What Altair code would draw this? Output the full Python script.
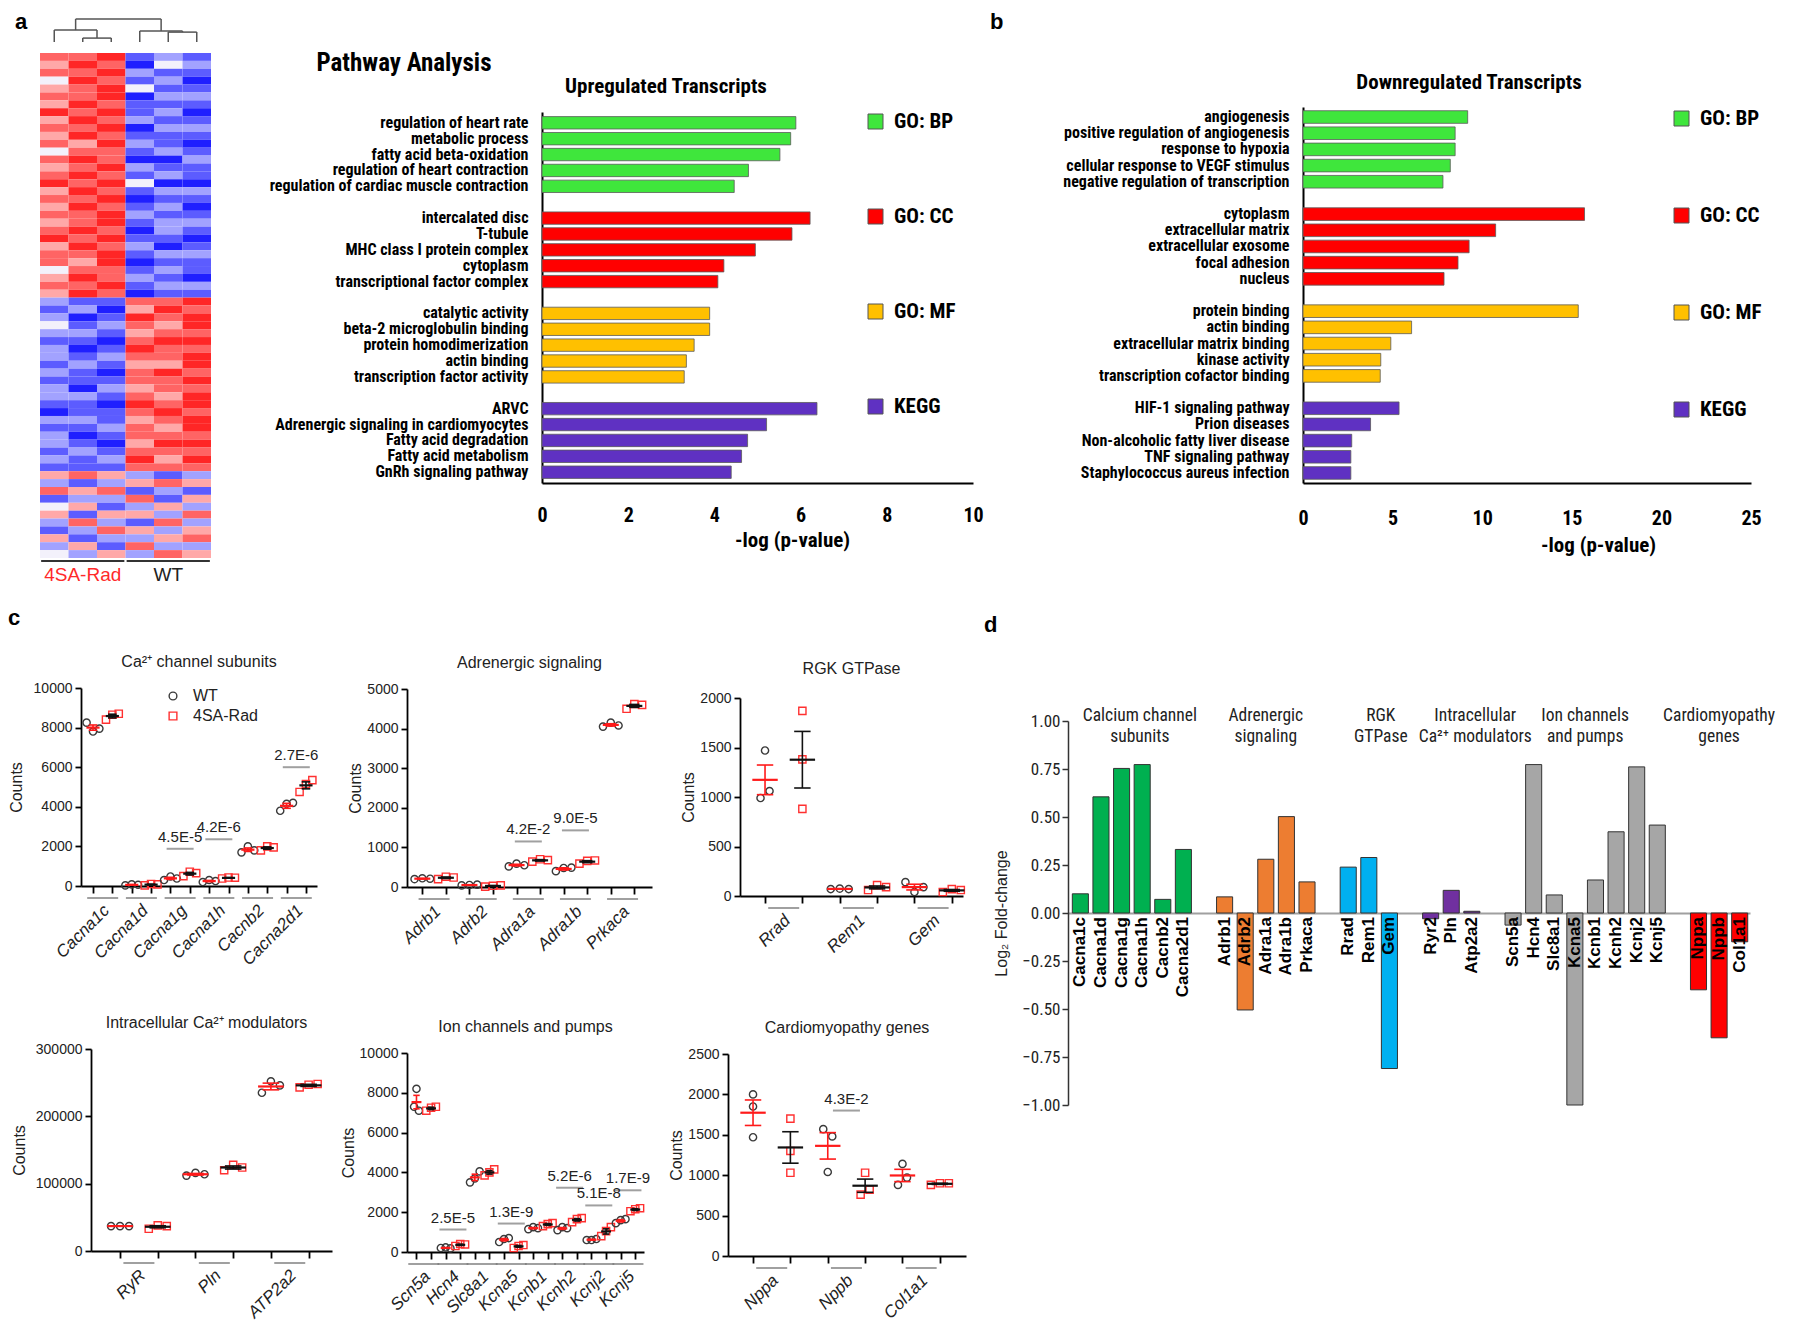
import altair as alt
import pandas as pd

NARROW = "Liberation Sans Narrow, Arial Narrow, Roboto Condensed, DejaVu Sans Condensed, sans-serif"
ARIAL = "Liberation Sans, Arial, Helvetica, sans-serif"

# ====================== DATA ======================
# ---- panel a: heatmap, z-score levels (-3 blue .. +3 red), 64 transcripts x 6 samples
hm_samples = ["4SA-Rad 1", "4SA-Rad 2", "4SA-Rad 3", "WT 1", "WT 2", "WT 3"]
hm_groups = ["4SA-Rad", "4SA-Rad", "4SA-Rad", "WT", "WT", "WT"]
hm_4sa_1 = [2,1,2,0,1,2,1,3,1,2,1,2,0,2,1,2,3,1,2,1,2,1,2,3,1,2,2,0,1,2,1,
            -1,-2,-1,0,-1,-2,-1,-1,-2,-1,-2,-1,-1,-2,-3,-1,-2,-1,-1,-2,-1,-2,
            1,-1,2,-2,0,1,-1,-2,1,-1,0]
hm_4sa_2 = [2,3,2,3,2,2,3,2,3,2,3,1,2,3,2,3,2,3,2,3,2,2,3,2,3,2,1,2,3,2,3,
            -2,-1,-3,-2,-1,-2,-3,-2,-1,-2,-2,-3,-1,-2,-2,-1,-2,-3,-2,-1,-2,-2,
            2,-2,1,-1,1,-2,2,-1,-2,1,-1]
hm_4sa_3 = [3,2,3,2,3,3,2,3,2,3,2,3,2,2,3,2,3,2,3,2,3,3,2,3,2,3,3,2,2,3,2,
            -2,-3,-2,-1,-2,-3,-2,-1,-2,-3,-2,-1,-2,-3,-2,-2,-1,-2,-3,-2,-1,-2,
            1,-1,2,-1,-2,1,-1,2,-1,-2,1]
hm_wt_1 = [-2,-3,-1,-2,0,-3,-2,-2,-1,-3,-2,-1,-2,-3,-1,-2,0,-2,-3,-2,-1,-2,-3,-2,-1,-2,-3,-2,-1,-2,-3,
           2,1,3,2,1,2,3,2,1,2,2,1,2,3,2,1,2,2,1,2,3,2,
           -1,1,-2,2,-1,1,-2,1,-1,2,-1]
hm_wt_2 = [-1,0,-2,-1,-2,-1,-2,-1,-2,-1,-2,-2,-1,-3,-2,-1,-3,-1,-2,-1,-2,-1,-1,-2,-3,-1,-2,-1,-2,-1,-2,
           2,3,2,1,2,3,2,2,1,3,2,2,1,2,3,2,1,2,3,2,1,2,
           -2,2,-1,-2,1,-1,2,-1,1,-1,2]
hm_wt_3 = [-2,-1,-2,-3,-2,-1,-2,-3,-2,-1,-2,-3,-2,-1,-2,-2,-3,-1,-2,-3,-2,-1,-2,-3,-2,-1,-2,-2,-3,-1,-2,
           3,2,3,3,2,3,2,3,3,2,3,2,3,3,2,3,3,2,3,2,3,2,
           -1,1,-2,1,-1,2,-1,1,2,-1,1]
hm_columns = [hm_4sa_1, hm_4sa_2, hm_4sa_3, hm_wt_1, hm_wt_2, hm_wt_3]
# hierarchical clustering of samples: (child, child, merge height)
dendro_merges = [("s2", "s3", 0.17), ("s1", "m1", 0.52), ("s5", "s6", 0.43),
                 ("s4", "m3", 0.48), ("m2", "m4", 1.0)]

# ---- panels a/b: pathway analysis
CAT_ORDER = ["GO: BP", "GO: CC", "GO: MF", "KEGG"]
CAT_COLORS = ["#3fe63c", "#ff0000", "#ffc000", "#5f31c2"]
up_terms = ["regulation of heart rate", "metabolic process", "fatty acid beta-oxidation",
            "regulation of heart contraction", "regulation of cardiac muscle contraction",
            "intercalated disc", "T-tubule", "MHC class I protein complex", "cytoplasm",
            "transcriptional factor complex",
            "catalytic activity", "beta-2 microglobulin binding", "protein homodimerization",
            "actin binding", "transcription factor activity",
            "ARVC", "Adrenergic signaling in cardiomyocytes", "Fatty acid degradation",
            "Fatty acid metabolism", "GnRh signaling pathway"]
up_values = [5.89, 5.77, 5.52, 4.79, 4.46,
             6.22, 5.80, 4.95, 4.22, 4.08,
             3.89, 3.89, 3.53, 3.35, 3.30,
             6.38, 5.21, 4.77, 4.63, 4.39]
up_cats = ["GO: BP"] * 5 + ["GO: CC"] * 5 + ["GO: MF"] * 5 + ["KEGG"] * 5
down_terms = ["angiogenesis", "positive regulation of angiogenesis", "response to hypoxia",
              "cellular response to VEGF stimulus", "negative regulation of transcription",
              "cytoplasm", "extracellular matrix", "extracellular exosome", "focal adhesion", "nucleus",
              "protein binding", "actin binding", "extracellular matrix binding", "kinase activity",
              "transcription cofactor binding",
              "HIF-1 signaling pathway", "Prion diseases", "Non-alcoholic fatty liver disease",
              "TNF signaling pathway", "Staphylococcus aureus infection"]
down_values = [9.19, 8.49, 8.49, 8.22, 7.81,
               15.71, 10.75, 9.27, 8.65, 7.87,
               15.36, 6.06, 4.90, 4.34, 4.31,
               5.36, 3.77, 2.72, 2.67, 2.67]
down_cats = ["GO: BP"] * 5 + ["GO: CC"] * 5 + ["GO: MF"] * 5 + ["KEGG"] * 5

# ---- panel c: counts (3 replicates per genotype)
ca_genes = ["Cacna1c", "Cacna1d", "Cacna1g", "Cacna1h", "Cacnb2", "Cacna2d1"]
ca_wt = [[8250, 7800, 7950], [30, 80, 60], [300, 480, 380], [200, 300, 250], [1700, 2000, 1800], [3800, 4150, 4200]]
ca_sa = [[8400, 8650, 8700], [30, 100, 80], [500, 720, 650], [380, 430, 420], [1800, 2000, 1950], [4750, 5150, 5350]]
ca_p = [("Cacna1g", "4.5E-5", 1880), ("Cacna1h", "4.2E-6", 2360), ("Cacna2d1", "2.7E-6", 6000)]

adr_genes = ["Adrb1", "Adrb2", "Adra1a", "Adra1b", "Prkaca"]
adr_wt = [[200, 220, 210], [40, 50, 60], [520, 590, 550], [400, 480, 490], [4050, 4150, 4080]]
adr_sa = [[200, 260, 240], [10, 30, 40], [640, 700, 680], [590, 660, 670], [4500, 4620, 4600]]
adr_p = [("Adra1a", "4.2E-2", 1150), ("Adra1b", "9.0E-5", 1430)]

rgk_genes = ["Rrad", "Rem1", "Gem"]
rgk_wt = [[990, 1470, 1060], [70, 75, 70], [140, 40, 90]]
rgk_sa = [[880, 1380, 1870], [60, 110, 90], [40, 70, 60]]
rgk_p = []

icm_genes = ["RyR", "Pln", "ATP2a2"]
icm_wt = [[37000, 37000, 37000], [112000, 116000, 114000], [235000, 252000, 246000]]
icm_sa = [[33000, 38000, 37000], [120000, 128000, 124000], [243000, 247000, 248000]]
icm_p = []

ion_genes = ["Scn5a", "Hcn4", "Slc8a1", "Kcna5", "Kcnb1", "Kcnh2", "Kcnj2", "Kcnj5"]
ion_wt = [[8200, 7300, 7100], [200, 230, 180], [3500, 3700, 4050], [500, 650, 700],
          [1150, 1250, 1200], [1100, 1250, 1200], [600, 600, 650], [1450, 1600, 1650]]
ion_sa = [[7100, 7250, 7300], [300, 400, 380], [3850, 4000, 4150], [200, 300, 350],
          [1300, 1400, 1450], [1500, 1650, 1700], [800, 1050, 1250], [2050, 2150, 2200]]
ion_p = [("Hcn4", "2.5E-5", 1130), ("Kcna5", "1.3E-9", 1430), ("Kcnh2", "5.2E-6", 3230),
         ("Kcnj2", "5.1E-8", 2340), ("Kcnj5", "1.7E-9", 3100)]

cmp_genes = ["Nppa", "Nppb", "Col1a1"]
cmp_wt = [[2000, 1850, 1470], [1570, 1480, 1040], [1140, 880, 970]]
cmp_sa = [[1700, 1300, 1030], [1030, 760, 820], [880, 900, 900]]
cmp_p = [("Nppb", "4.3E-2", 1800)]

# ---- panel d: log2 fold-change
d_genes = ["Cacna1c", "Cacna1d", "Cacna1g", "Cacna1h", "Cacnb2", "Cacna2d1",
           "Adrb1", "Adrb2", "Adra1a", "Adra1b", "Prkaca",
           "Rrad", "Rem1", "Gem",
           "Ryr2", "Pln", "Atp2a2",
           "Scn5a", "Hcn4", "Slc8a1", "Kcna5", "Kcnb1", "Kcnh2", "Kcnj2", "Kcnj5",
           "Nppa", "Nppb", "Col1a1"]
d_values = [0.100, 0.605, 0.753, 0.773, 0.071, 0.331,
            0.084, -0.505, 0.280, 0.502, 0.162,
            0.239, 0.289, -0.810,
            -0.030, 0.118, 0.009,
            -0.063, 0.773, 0.094, -1.000, 0.172, 0.423, 0.761, 0.458,
            -0.400, -0.650, -0.150]
d_group_names = ["Calcium channel subunits", "Adrenergic signaling", "RGK GTPase",
                 "Intracellular Ca2+ modulators", "Ion channels and pumps", "Cardiomyopathy genes"]
d_group_titles = ["Calcium channel\nsubunits", "Adrenergic\nsignaling", "RGK\nGTPase",
                  "Intracellular\nCa²⁺ modulators", "Ion channels\nand pumps", "Cardiomyopathy\ngenes"]
d_group_sizes = [6, 5, 3, 3, 8, 3]
d_group_colors = ["#00b050", "#ed7d31", "#00b0f0", "#7030a0", "#a6a6a6", "#ff0000"]


# ====================== HELPERS ======================
def text_layer(text, x, y, size, weight="bold", font=ARIAL, color="black",
               align="left", baseline="top", opacity=1.0):
    return alt.Chart(pd.DataFrame({"t": [text]})).mark_text(
        align=align, baseline=baseline, font=font, fontSize=size, fontWeight=weight,
        color=color, opacity=opacity).encode(text="t:N", x=alt.value(x), y=alt.value(y))


# ====================== PANEL a: heatmap ======================
n_rows = len(hm_columns[0])
hm_df = pd.DataFrame([dict(c0=c, c1=c + 1, r0=r, r1=r + 1, v=v)
                      for c, col in enumerate(hm_columns) for r, v in enumerate(col)])
hx = alt.Scale(domain=[0, len(hm_columns)], range=[-41, 130], nice=False, zero=False)
hy = alt.Scale(domain=[0, n_rows], range=[-54, 451], nice=False, zero=False)
HM_COLORS = ["#1f1fff", "#5c5cff", "#a2a2ff", "#f3f1fb", "#ffa8a8", "#ff6464", "#ff2626"]
heat = alt.Chart(hm_df).mark_rect().encode(
    x=alt.X("c0:Q", scale=hx, axis=None), x2="c1:Q",
    y=alt.Y("r0:Q", scale=hy, axis=None), y2="r1:Q",
    color=alt.Color("v:Q", scale=alt.Scale(domain=[-3, -2, -1, 0, 1, 2, 3], range=HM_COLORS,
                                          interpolate="rgb"), legend=None))
grp_rows = []
for g in ["4SA-Rad", "WT"]:
    cols = [i for i, gg in enumerate(hm_groups) if gg == g]
    grp_rows.append(dict(g=g, x0=min(cols) + 0.04, x1=max(cols) + 1 - 0.04, xc=(min(cols) + max(cols) + 1) / 2))
grp_df = pd.DataFrame(grp_rows)
hm_ul = alt.Chart(grp_df).mark_rule(color="#333333", strokeWidth=2, yOffset=3).encode(
    x=alt.X("x0:Q", scale=hx, axis=None), x2="x1:Q", y=alt.Y(datum=n_rows, scale=hy, axis=None))
hm_lab_sa = alt.Chart(grp_df).transform_filter("datum.g == '4SA-Rad'").mark_text(
    font=ARIAL, fontSize=19, color="#ff2a2a", baseline="middle", yOffset=17).encode(
    x=alt.X("xc:Q", scale=hx, axis=None), y=alt.Y(datum=n_rows, scale=hy, axis=None), text="g:N")
hm_lab_wt = alt.Chart(grp_df).transform_filter("datum.g == 'WT'").mark_text(
    font=ARIAL, fontSize=19, color="#222222", baseline="middle", yOffset=17).encode(
    x=alt.X("xc:Q", scale=hx, axis=None), y=alt.Y(datum=n_rows, scale=hy, axis=None), text="g:N")

node_x = {f"s{i + 1}": i + 0.5 for i in range(len(hm_columns))}
node_h = {f"s{i + 1}": 0.0 for i in range(len(hm_columns))}
segs = []
for k, (a, b, h) in enumerate(dendro_merges):
    xa, xb = node_x[a], node_x[b]
    segs.append(dict(x=xa, x2=xb, y=h, y2=h))
    segs.append(dict(x=xa, x2=xa, y=node_h[a], y2=h))
    segs.append(dict(x=xb, x2=xb, y=node_h[b], y2=h))
    node_x[f"m{k + 1}"] = (xa + xb) / 2
    node_h[f"m{k + 1}"] = h
dendro = alt.Chart(pd.DataFrame(segs)).mark_rule(color="#555555", strokeWidth=1.5).encode(
    x=alt.X("x:Q", scale=hx, axis=None), x2="x2:Q",
    y=alt.Y("y:Q", scale=alt.Scale(domain=[0, 1], range=[-65, -88], nice=False, zero=False), axis=None),
    y2="y2:Q")
heat_chart = alt.layer(
    alt.layer(heat, hm_ul, hm_lab_sa, hm_lab_wt), dendro, text_layer("a", -66, -95, 22)
).resolve_scale(y="independent").properties(width=130, height=451)


# ====================== PANELS a/b: pathway bars ======================
def pathway_chart(terms, values, cats, width, height, ytop, xmax, xstep, pad_outer,
                  legend_x, legend_y, row_pad, label_pad, xtitle_x, xtitle_y, extras):
    order = []
    for k, cat in enumerate(CAT_ORDER):
        if k:
            order.append(" " * k)
        order += [t for t, c in zip(terms, cats) if c == cat]
    df = pd.DataFrame({"term": terms, "value": values, "cat": cats})
    bars = alt.Chart(df).mark_bar(stroke="#5a5a5a", strokeWidth=0.8).encode(
        y=alt.Y("term:N", scale=alt.Scale(domain=order, range=[ytop, ytop + height],
                                           paddingInner=0.22, paddingOuter=pad_outer),
                axis=alt.Axis(title=None, labelFont=NARROW, labelFontSize=16, labelFontWeight="bold",
                              labelColor="black", labelLimit=600, labelPadding=14, ticks=False,
                              domainColor="black", domainWidth=2)),
        x=alt.X("value:Q", scale=alt.Scale(domain=[0, xmax], nice=False),
                axis=alt.Axis(values=list(range(0, xmax + 1, xstep)), labelFont=NARROW, labelFontSize=20,
                              labelFontWeight="bold", labelColor="black", labelFlush=False, ticks=False,
                              tickSize=0, labelPadding=label_pad, domainColor="black", domainWidth=2,
                              grid=False, title="-log (p-value)", titleFont=NARROW, titleFontSize=21,
                              titleFontWeight="bold", titleColor="black", titleX=xtitle_x, titleY=xtitle_y,
                              titleBaseline="middle")),
        color=alt.Color("cat:N", scale=alt.Scale(domain=CAT_ORDER, range=CAT_COLORS),
                        legend=alt.Legend(orient="none", legendX=legend_x, legendY=legend_y, title=None,
                                          symbolType="square", symbolSize=225, symbolStrokeColor="#555555",
                                          symbolStrokeWidth=1, symbolOpacity=1, labelFont=NARROW,
                                          labelFontSize=21, labelFontWeight="bold", labelColor="black",
                                          rowPadding=row_pad, labelOffset=8, padding=0)))
    return alt.layer(bars, *extras).properties(width=width, height=ytop + height)


up_chart = pathway_chart(
    up_terms, up_values, up_cats, 431, 371, 5, 10, 2, 0.29, 323, 4, 73, 22, 250, 57,
    [text_layer("Pathway Analysis", -138, -44, 25, font=NARROW, align="center", baseline="middle"),
     text_layer("Upregulated Transcripts", 124, -20, 21, font=NARROW, align="center", baseline="middle"),
     text_layer("a", -325, -95, 22, opacity=0.0)])
down_chart = pathway_chart(
    down_terms, down_values, down_cats, 448, 376, 0, 25, 5, 0.23, 368, 1, 75, 25, 295, 62,
    [text_layer("Downregulated Transcripts", 166, -24, 21, font=NARROW, align="center", baseline="middle"),
     text_layer("b", -313, -95, 22)])


# ====================== PANEL c: dot plots ======================
def cluster_offsets(vals, px_per_unit, thr=8.0):
    order = sorted(range(len(vals)), key=lambda k: vals[k])
    clusters, cur = [], [order[0]]
    for k in order[1:]:
        if (vals[k] - vals[cur[-1]]) * px_per_unit < thr:
            cur.append(k)
        else:
            clusters.append(cur)
            cur = [k]
    clusters.append(cur)
    offs = [0.0] * len(vals)
    for cl in clusters:
        m = len(cl)
        for j, k in enumerate(sorted(cl)):
            offs[k] = j - (m - 1) / 2
    return offs


def dot_chart(title, genes, wt, sa, pvals, ymax, ystep, width, height, dom, title_offset,
              title_pad, xstart=0, ytop=0, legend=False):
    step_px = width / (dom[1] - dom[0])
    ppu = height / ymax
    spread = min(9.0, 0.33 * step_px) / step_px
    recs = []
    for i, g in enumerate(genes):
        for gi, (grp, vals) in enumerate((("WT", wt[i]), ("4SA-Rad", sa[i]))):
            offs = cluster_offsets(vals, ppu)
            for r, v in enumerate(vals):
                recs.append(dict(gene=g, grp=grp, pos=2 * i + gi, dx=offs[r] * spread, value=v))
    df = pd.DataFrame(recs)
    gdf = pd.DataFrame({"gene": genes, "c": [2 * i + 0.5 for i in range(len(genes))]})
    xs = alt.Scale(domain=list(dom), range=[xstart, xstart + width], nice=False, zero=False)
    ys = alt.Scale(domain=[0, ymax], range=[ytop + height, ytop], nice=False, zero=False)
    xaxis = alt.Axis(values=list(range(2 * len(genes))), labels=False, tickSize=7, tickWidth=1.8,
                     tickColor="black", domainColor="black", domainWidth=1.8, title=None, grid=False)
    yaxis = alt.Axis(values=list(range(0, ymax + 1, ystep)), format="d", labelFont=ARIAL, labelFontSize=14,
                     labelColor="#222222", labelPadding=3, tickSize=6, tickWidth=1.8, tickColor="black",
                     domainColor="black", domainWidth=1.8, title="Counts", titleFont=ARIAL, titleFontSize=16,
                     titleFontWeight="normal", titleColor="#222222", titlePadding=title_pad, grid=False,
                     offset=-xstart)
    X = lambda f: alt.X(f, scale=xs, axis=xaxis)
    Y = lambda f: alt.Y(f, scale=ys, axis=yaxis)
    if legend:
        leg = alt.Legend(orient="none", legendX=84, legendY=0, title=None, labelFont=ARIAL, labelFontSize=16,
                         labelColor="#222222", symbolSize=60, symbolStrokeWidth=1.4, rowPadding=4,
                         labelOffset=12, padding=0)
    else:
        leg = None
    grp_dom = ["WT", "4SA-Rad"]
    pts = alt.Chart(df).transform_calculate(xp="datum.pos + datum.dx").mark_point(
        filled=False, size=52, strokeWidth=1.4, opacity=1).encode(
        x=X("xp:Q"), y=Y("value:Q"),
        shape=alt.Shape("grp:N", scale=alt.Scale(domain=grp_dom, range=["circle", "square"]), legend=leg),
        stroke=alt.Stroke("grp:N", scale=alt.Scale(domain=grp_dom, range=["#3a3a3a", "#ff3030"]), legend=leg))
    stats = alt.Chart(df).transform_aggregate(
        mean="mean(value)", sem="stderr(value)", groupby=["gene", "grp", "pos"]
    ).transform_calculate(lo="datum.mean - datum.sem", hi="datum.mean + datum.sem",
                          ml="datum.pos - 0.34", mr="datum.pos + 0.34",
                          cl="datum.pos - 0.22", cr="datum.pos + 0.22")
    colr = alt.Color("grp:N", scale=alt.Scale(domain=grp_dom, range=["#ff1a1a", "#111111"]), legend=None)
    mean_l = stats.mark_rule(strokeWidth=2.2).encode(x=X("ml:Q"), x2="mr:Q", y=Y("mean:Q"), color=colr)
    err_v = stats.mark_rule(strokeWidth=1.6).encode(x=X("pos:Q"), y=Y("lo:Q"), y2="hi:Q", color=colr)
    cap_lo = stats.mark_rule(strokeWidth=1.6).encode(x=X("cl:Q"), x2="cr:Q", y=Y("lo:Q"), color=colr)
    cap_hi = stats.mark_rule(strokeWidth=1.6).encode(x=X("cl:Q"), x2="cr:Q", y=Y("hi:Q"), color=colr)
    ul = alt.Chart(gdf).mark_tick(orient="horizontal", size=31, thickness=2, color="#777777", yOffset=12).encode(
        x=X("c:Q"), y=alt.Y(datum=0, scale=ys, axis=yaxis))
    gl = alt.Chart(gdf).mark_text(angle=315, align="right", baseline="middle", font=ARIAL, fontSize=17,
                                  fontStyle="italic", color="#222222", yOffset=22, xOffset=4).encode(
        x=X("c:Q"), y=alt.Y(datum=0, scale=ys, axis=yaxis), text="gene:N")
    layers = [pts, mean_l, err_v, cap_lo, cap_hi, ul, gl]
    if pvals:
        pdf = pd.DataFrame([dict(c=2 * genes.index(g) + 0.5, t=t, yv=yv) for g, t, yv in pvals])
        layers.append(alt.Chart(pdf).mark_tick(orient="horizontal", size=27, thickness=2, color="#777777").encode(
            x=X("c:Q"), y=Y("yv:Q")))
        layers.append(alt.Chart(pdf).mark_text(baseline="bottom", font=ARIAL, fontSize=15, color="#222222",
                                               yOffset=-4).encode(x=X("c:Q"), y=Y("yv:Q"), text="t:N"))
    return alt.layer(*layers).properties(
        width=xstart + width, height=ytop + height,
        title=alt.Title(title, font=ARIAL, fontSize=16, fontWeight="normal", color="#222222", offset=title_offset))


c1 = dot_chart("Ca²⁺ channel subunits", ca_genes, ca_wt, ca_sa, ca_p, 10000, 2000, 236, 198,
               (-0.62, 11.57), 11, 9, legend=True)
c2 = dot_chart("Adrenergic signaling", adr_genes, adr_wt, adr_sa, adr_p, 5000, 1000, 245, 198,
               (-0.65, 9.75), 11, 3, ytop=1)
c3 = dot_chart("RGK GTPase", rgk_genes, rgk_wt, rgk_sa, rgk_p, 2000, 500, 223, 198,
               (-0.67, 5.3), 11, 3, ytop=10)
c4 = dot_chart("Intracellular Ca²⁺ modulators", icm_genes, icm_wt, icm_sa, icm_p, 300000, 100000, 241, 202,
               (-0.77, 5.62), 11, 8, xstart=10)
c5 = dot_chart("Ion channels and pumps", ion_genes, ion_wt, ion_sa, ion_p, 10000, 2000, 237, 199,
               (-0.65, 15.6), 11, 3, ytop=4)
c6 = dot_chart("Cardiomyopathy genes", cmp_genes, cmp_wt, cmp_sa, cmp_p, 2500, 500, 238, 202,
               (-0.67, 5.7), 11, 3, ytop=5)

# ====================== PANEL d: fold change ======================
D_W, D_H, D_TOP = 682, 384, 33
d_recs = []
i = 0
for gi, (gname, gtitle, n) in enumerate(zip(d_group_names, d_group_titles, d_group_sizes)):
    for _ in range(n):
        d_recs.append(dict(gene=d_genes[i], value=d_values[i], grp=gname, gtitle=gtitle, pos=i + gi))
        i += 1
d_df = pd.DataFrame(d_recs)
dxs = alt.Scale(domain=[-0.6, 32.5], nice=False, zero=False)
dys = alt.Scale(domain=[-1, 1], range=[D_TOP + D_H, D_TOP], nice=False, zero=False)
d_xaxis = alt.Axis(orient="bottom", offset=-(D_H / 2), domainColor="#a0a0a0", domainWidth=2, ticks=False,
                   labels=False, title=None, grid=False)
d_yaxis = alt.Axis(values=[-1, -0.75, -0.5, -0.25, 0, 0.25, 0.5, 0.75, 1], format=".2f",
                   labelFont=NARROW, labelFontSize=17, labelColor="#222222", tickSize=6,
                   tickColor="#333333", tickWidth=1.5, domainColor="#333333", domainWidth=1.5,
                   title="Log₂ Fold-change", titleFont=ARIAL, titleFontSize=16,
                   titleFontWeight="normal", titleColor="#222222", titlePadding=12, grid=False)
d_bars = alt.Chart(d_df).transform_calculate(xl="datum.pos - 0.39", xr="datum.pos + 0.39").mark_bar(
    stroke="#333333", strokeWidth=1).encode(
    x=alt.X("xl:Q", scale=dxs, axis=d_xaxis), x2="xr:Q",
    y=alt.Y("value:Q", scale=dys, axis=d_yaxis), y2=alt.Y2(datum=0),
    color=alt.Color("grp:N", scale=alt.Scale(domain=d_group_names, range=d_group_colors), legend=None))
d_labels = alt.Chart(d_df).mark_text(angle=270, align="right", baseline="middle", font=ARIAL, fontSize=17,
                                     fontWeight="bold", color="black", yOffset=4).encode(
    x=alt.X("pos:Q", scale=dxs, axis=d_xaxis), y=alt.Y(datum=0, scale=dys, axis=d_yaxis), text="gene:N")
title_nudge = {"Calcium channel subunits": 8, "RGK GTPase": 12, "Intracellular Ca2+ modulators": 24}
d_title_layers = []
for gname in d_group_names:
    d_title_layers.append(
        alt.Chart(d_df).transform_filter(alt.datum.grp == gname).transform_aggregate(
            center="mean(pos)", groupby=["grp", "gtitle"]).mark_text(
            baseline="top", align="center", lineBreak="\n", lineHeight=21, font=NARROW, fontSize=17.5,
            color="#222222", yOffset=-14, xOffset=title_nudge.get(gname, 0)).encode(
            x=alt.X("center:Q", scale=dxs, axis=d_xaxis), y=alt.Y(datum=1, scale=dys, axis=d_yaxis),
            text="gtitle:N"))
d_chart = alt.layer(d_bars, d_labels, *d_title_layers, text_layer("d", -84, -73, 22)).properties(
    width=D_W, height=D_TOP + D_H)

# ====================== LAYOUT ======================
RES = dict(color="independent", shape="independent", stroke="independent")
row_a = alt.hconcat(heat_chart, up_chart, down_chart, spacing=6).resolve_scale(**RES)
c_row1 = alt.hconcat(c1, c2, c3, spacing=28).resolve_scale(**RES)
c_row2 = alt.hconcat(alt.hconcat(c4, c5, spacing=8).resolve_scale(**RES), c6, spacing=17).resolve_scale(**RES)
c_grid = alt.vconcat(c_row1, c_row2, spacing=46,
                     title=alt.Title("c", anchor="start", font=ARIAL, fontSize=22, fontWeight="bold",
                                     color="black", offset=24)).resolve_scale(**RES)
row_b = alt.hconcat(c_grid, d_chart, spacing=16).resolve_scale(**RES)
chart = alt.vconcat(row_a, row_b, spacing=22).resolve_scale(**RES).properties(
    padding={"left": 0, "top": 3, "right": 0, "bottom": 0}, background="white"
).configure_view(stroke=None).configure_axis(grid=False)

chart.save("out.html", embed_options={"renderer": "svg", "actions": False})
